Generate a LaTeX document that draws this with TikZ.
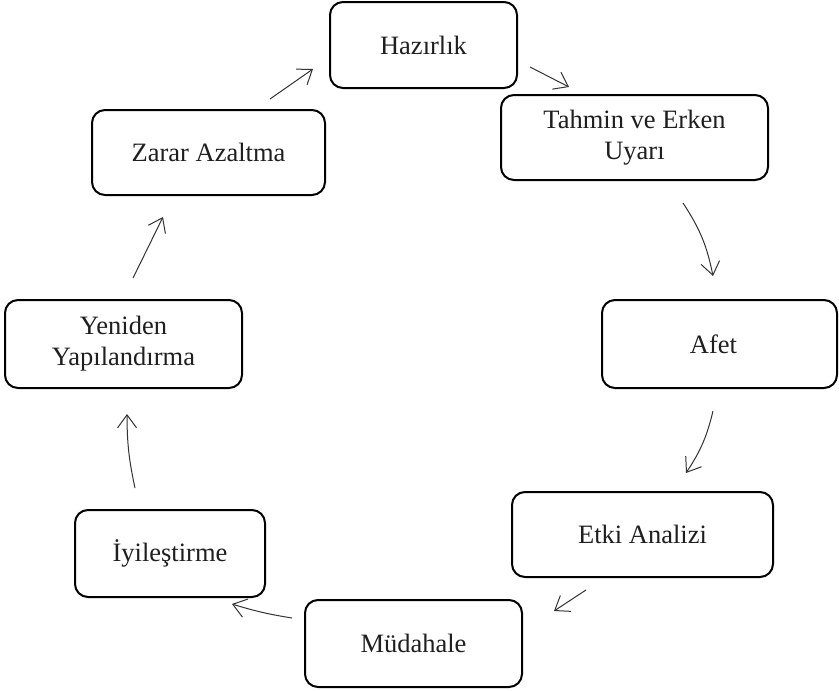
\documentclass[tikz,border=0pt]{standalone}
\usepackage{fontspec}
\setmainfont{Liberation Serif}
\usetikzlibrary{arrows.meta}
\begin{document}
\begin{tikzpicture}[x=1pt,y=-1pt,
  stage/.style={draw=black, line width=2pt, rounded corners=13pt, fill=white,
    align=center, inner sep=0pt, font=\fontsize{26.5}{31}\selectfont, text=black!88},
  flow/.style={draw=black!80, line width=1pt, -{Straight Barb[length=13pt,width=19pt]}}]
  \useasboundingbox[fill=white] (0,0) rectangle (839,691);

  % stages of the cycle
  \node[stage, minimum width=187pt, minimum height=86pt] (haz)  at (423.5,45)   {Hazırlık};
  \node[stage, minimum width=267pt, minimum height=85pt] (tah)  at (634.5,137.5) {Tahmin ve Erken\\Uyarı};
  \node[stage, minimum width=235pt, minimum height=88pt] (afet) at (719.5,344)  {\hspace*{-12pt}Afet};
  \node[stage, minimum width=261pt, minimum height=85pt] (etki) at (642.5,534.5) {Etki Analizi};
  \node[stage, minimum width=217pt, minimum height=87pt] (mud)  at (413.5,643.5) {Müdahale};
  \node[stage, minimum width=190pt, minimum height=87pt] (iyi)  at (170,553.5)  {İyileştirme};
  \node[stage, minimum width=237pt, minimum height=88pt] (yen)  at (123.5,344)  {Yeniden\\Yapılandırma};
  \node[stage, minimum width=233pt, minimum height=85pt] (zar)  at (208.5,152.5) {Zarar Azaltma};

  % arrow end points in the gaps between stages
  \coordinate (hazout) at (530,67);   \coordinate (tahin)  at (569,87);
  \coordinate (tahout) at (683,203);  \coordinate (afetin) at (713,276);
  \coordinate (afetout) at (713,411); \coordinate (etkiin) at (686,473);
  \coordinate (etkiout) at (586,590); \coordinate (mudin)  at (554,611);
  \coordinate (mudout) at (292,618);  \coordinate (iyiin)  at (232,604);
  \coordinate (iyiout) at (135,488);  \coordinate (yenin)  at (127,414);
  \coordinate (yenout) at (133,278);  \coordinate (zarin)  at (163,217);
  \coordinate (zarout) at (270,99);   \coordinate (hazin)  at (313,69);

  \draw[flow] (hazout) -- (tahin);
  \draw[flow] (tahout) to[bend left=11] (afetin);
  \draw[flow] (afetout) to[bend left=10] (etkiin);
  \draw[flow] (etkiout) -- (mudin);
  \draw[flow] (mudout) to[bend left=4] (iyiin);
  \draw[flow] (iyiout) to[bend left=6] (yenin);
  \draw[flow] (yenout) -- (zarin);
  \draw[flow] (zarout) -- (hazin);
\end{tikzpicture}
\end{document}
